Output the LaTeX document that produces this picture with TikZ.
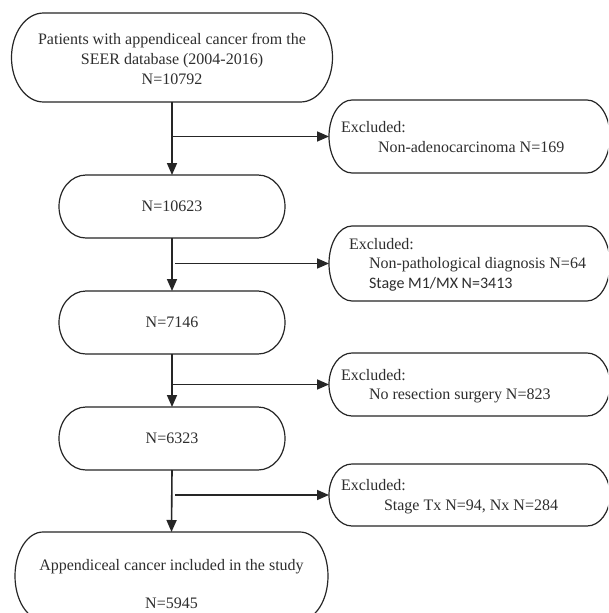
\documentclass[tikz,border=0pt]{standalone}
\usepackage{fontspec}
\setmainfont{Liberation Serif}
\newfontfamily\calibrifont{Carlito}
\usetikzlibrary{arrows.meta}
\definecolor{ink}{HTML}{262626}
\definecolor{txtc}{HTML}{2E2E2E}
\newcommand\termbox[3]{%
  \draw[tline] ([xshift=#2]#1.north west) -- ([xshift=-#2]#1.north east)
    arc[start angle=90,end angle=-90,x radius=#2,y radius=#3]
    -- ([xshift=#2]#1.south west)
    arc[start angle=270,end angle=90,x radius=#2,y radius=#3] -- cycle;}
\begin{document}
\begin{tikzpicture}[x=1pt,y=1pt,
  tbox/.style={rectangle, draw=none, inner sep=0pt, outer sep=0pt, text=txtc,
    font=\fontsize{16}{20}\selectfont},
  tline/.style={draw=ink, line width=1.2pt},
  ttxt/.style={inner sep=0pt, outer sep=0pt, text=txtc, font=\fontsize{16}{20}\selectfont},
  tarr/.style={draw=ink, line width=1.6pt, -{Triangle[length=12pt,width=10pt]}}]
\useasboundingbox (0,0) rectangle (608,-613);
\fill[white] (0,0) rectangle (608,-613);
\clip (0,0) rectangle (608,-613);

% main column
\node[tbox, minimum width=321pt, minimum height=89pt] (b1) at (172,-57.5) {};
\node[tbox, minimum width=226pt, minimum height=63pt] (b2) at (172,-206.5) {N=10623};
\node[tbox, minimum width=226pt, minimum height=63pt] (b3) at (172,-322.5) {N=7146};
\node[tbox, minimum width=226pt, minimum height=63pt] (b4) at (172,-438.5) {N=6323};
\node[tbox, minimum width=313pt, minimum height=88pt] (b5) at (171.5,-576) {};

\termbox{b1}{32pt}{44.5pt}
\termbox{b2}{27pt}{31.5pt}
\termbox{b3}{27pt}{31.5pt}
\termbox{b4}{27pt}{31.5pt}
\termbox{b5}{28pt}{44pt}

\node[ttxt, anchor=base] (t1a) at (172,-44) {Patients with appendiceal cancer from the};
\node[ttxt, anchor=base] (t1b) at (172,-64) {SEER database (2004-2016)};
\node[ttxt, anchor=base] (t1c) at (172,-84) {N=10792};
\node[ttxt, anchor=base] (t5a) at (171.5,-570) {Appendiceal cancer included in the study};
\node[ttxt, anchor=base] (t5b) at (171.5,-608) {N=5945};

% excluded boxes
\node[tbox, minimum width=281pt, minimum height=73pt] (ex1) at (469.5,-136.5) {};
\node[tbox, minimum width=281pt, minimum height=75pt] (ex2) at (469.5,-263.5) {};
\node[tbox, minimum width=281pt, minimum height=63pt] (ex3) at (469.5,-384.5) {};
\node[tbox, minimum width=281pt, minimum height=62pt] (ex4) at (469.5,-495) {};

\termbox{ex1}{23pt}{36.5pt}
\termbox{ex2}{23pt}{37.5pt}
\termbox{ex3}{23pt}{31.5pt}
\termbox{ex4}{23pt}{31pt}

\node[ttxt, anchor=base west] (e1a) at (341,-132) {Excluded:};
\node[ttxt, anchor=base west] (e1b) at (378,-152) {Non-adenocarcinoma N=169};
\node[ttxt, anchor=base west] (e2a) at (349,-249) {Excluded:};
\node[ttxt, anchor=base west] (e2b) at (369,-268.5) {Non-pathological diagnosis N=64};
\node[ttxt, anchor=base west, font=\calibrifont\fontsize{16}{20}\selectfont] (e2c) at (369,-288.5) {Stage M1/MX N=3413};
\node[ttxt, anchor=base west] (e3a) at (341,-380) {Excluded:};
\node[ttxt, anchor=base west] (e3b) at (369,-399.5) {No resection surgery N=823};
\node[ttxt, anchor=base west] (e4a) at (341,-490) {Excluded:};
\node[ttxt, anchor=base west] (e4b) at (384,-510.5) {Stage Tx N=94, Nx N=284};

% connectors
\draw[tarr] (b1.south) -- (b2.north);
\draw[tarr] (b2.south) -- (b3.north);
\draw[tarr] (b3.south) -- (b4.north);
\draw[tarr] (b4.south) -- (b5.north);

\coordinate (j1) at (172,-136.5);
\coordinate (j2) at (175,-263.5);
\coordinate (j3) at (172,-384.5);
\coordinate (j4) at (175,-495);
\draw[tarr] (j1) -- (ex1.west);
\draw[tarr] (j2) -- (ex2.west);
\draw[tarr] (j3) -- (ex3.west);
\draw[tarr] (j4) -- (ex4.west);
\end{tikzpicture}
\end{document}
